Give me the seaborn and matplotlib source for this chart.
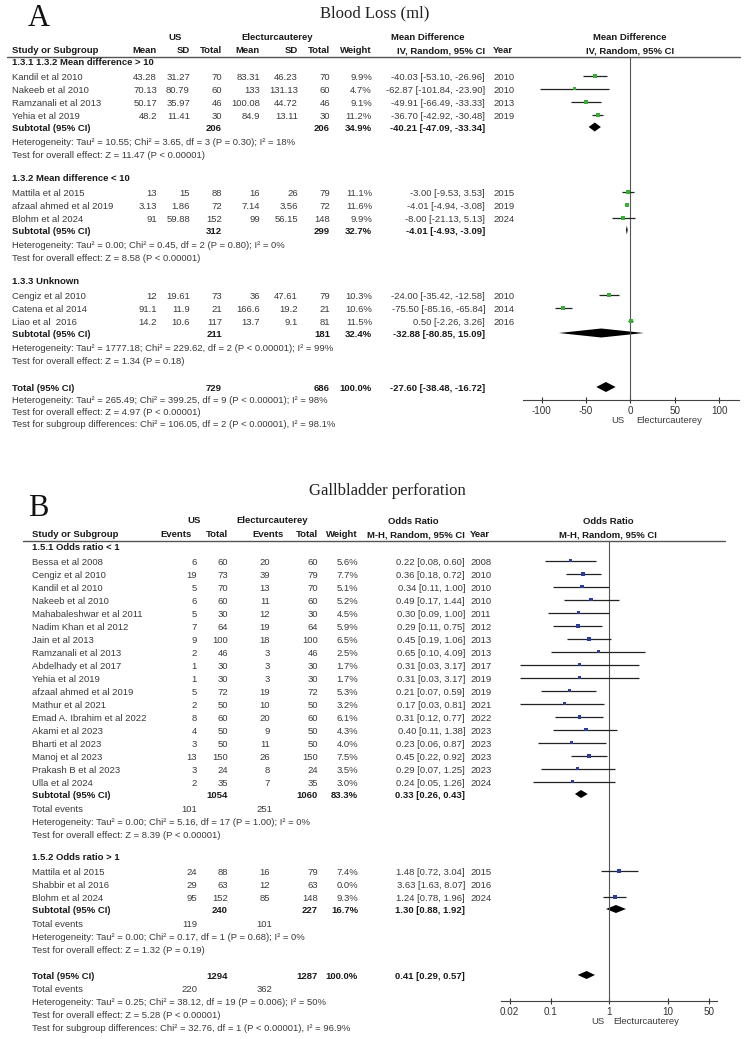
import matplotlib
matplotlib.use('Agg')
import matplotlib.pyplot as plt
import seaborn as sns
import pandas as pd

W, H = 749, 1039

# ---------------- A: Blood loss (ml) ----------------
a_groups = ['1.3.1 1.3.2 Mean difference > 10', '1.3.2 Mean difference < 10', '1.3.3 Unknown']
a_study = ['Kandil et al 2010', 'Nakeeb et al 2010', 'Ramzanali et al 2013', 'Yehia et al 2019',
           'Mattila et al 2015', 'afzaal ahmed et al 2019', 'Blohm et al 2024',
           'Cengiz et al 2010', 'Catena et al 2014', 'Liao et al  2016']
a_grp = [0, 0, 0, 0, 1, 1, 1, 2, 2, 2]
a_us_mean = [43.28, 70.13, 50.17, 48.2, 13, 3.13, 91, 12, 91.1, 14.2]
a_us_sd = [31.27, 80.79, 35.97, 11.41, 15, 1.86, 59.88, 19.61, 11.9, 10.6]
a_us_n = [70, 60, 46, 30, 88, 72, 152, 73, 21, 117]
a_ec_mean = [83.31, 133, 100.08, 84.9, 16, 7.14, 99, 36, 166.6, 13.7]
a_ec_sd = [46.23, 131.13, 44.72, 13.11, 26, 3.56, 56.15, 47.61, 19.2, 9.1]
a_ec_n = [70, 60, 46, 30, 79, 72, 148, 79, 21, 81]
a_weight = [9.9, 4.7, 9.1, 11.2, 11.1, 11.6, 9.9, 10.3, 10.6, 11.5]
a_md = [-40.03, -62.87, -49.91, -36.70, -3.00, -4.01, -8.00, -24.00, -75.50, 0.50]
a_lo = [-53.10, -101.84, -66.49, -42.92, -9.53, -4.94, -21.13, -35.42, -85.16, -2.26]
a_hi = [-26.96, -23.90, -33.33, -30.48, 3.53, -3.08, 5.13, -12.58, -65.84, 3.26]
a_year = [2010, 2010, 2013, 2019, 2015, 2019, 2024, 2010, 2014, 2016]

a_sub_us_n = [206, 312, 211]
a_sub_ec_n = [206, 299, 181]
a_sub_w = [34.9, 32.7, 32.4]
a_sub_md = [-40.21, -4.01, -32.88]
a_sub_lo = [-47.09, -4.93, -80.85]
a_sub_hi = [-33.34, -3.09, 15.09]
a_sub_het = ['Heterogeneity: Tau² = 10.55; Chi² = 3.65, df = 3 (P = 0.30); I² = 18%',
             'Heterogeneity: Tau² = 0.00; Chi² = 0.45, df = 2 (P = 0.80); I² = 0%',
             'Heterogeneity: Tau² = 1777.18; Chi² = 229.62, df = 2 (P < 0.00001); I² = 99%']
a_sub_test = ['Test for overall effect: Z = 11.47 (P < 0.00001)',
              'Test for overall effect: Z = 8.58 (P < 0.00001)',
              'Test for overall effect: Z = 1.34 (P = 0.18)']
a_tot_n = [729, 686]
a_tot_w = 100.0
a_tot_est = [-27.60, -38.48, -16.72]
a_tot_text = ['Heterogeneity: Tau² = 265.49; Chi² = 399.25, df = 9 (P < 0.00001); I² = 98%',
              'Test for overall effect: Z = 4.97 (P < 0.00001)',
              'Test for subgroup differences: Chi² = 106.05, df = 2 (P < 0.00001), I² = 98.1%']
a_ticks = [-100, -50, 0, 50, 100]

# ---------------- B: Gallbladder perforation ----------------
b_groups = ['1.5.1 Odds ratio < 1', '1.5.2 Odds ratio > 1']
b_study = ['Bessa et al 2008', 'Cengiz et al 2010', 'Kandil et al 2010', 'Nakeeb et al 2010',
           'Mahabaleshwar et al 2011', 'Nadim Khan et al 2012', 'Jain et al 2013',
           'Ramzanali et al 2013', 'Abdelhady et al 2017', 'Yehia et al 2019',
           'afzaal ahmed et al 2019', 'Mathur et al 2021', 'Emad A. Ibrahim et al 2022',
           'Akami et al 2023', 'Bharti et al 2023', 'Manoj et al 2023', 'Prakash B et al 2023',
           'Ulla et al 2024',
           'Mattila et al 2015', 'Shabbir et al 2016', 'Blohm et al 2024']
b_grp = [0] * 18 + [1] * 3
b_us_ev = [6, 19, 5, 6, 5, 7, 9, 2, 1, 1, 5, 2, 8, 4, 3, 13, 3, 2, 24, 29, 95]
b_us_n = [60, 73, 70, 60, 30, 64, 100, 46, 30, 30, 72, 50, 60, 50, 50, 150, 24, 35, 88, 63, 152]
b_ec_ev = [20, 39, 13, 11, 12, 19, 18, 3, 3, 3, 19, 10, 20, 9, 11, 26, 8, 7, 16, 12, 85]
b_ec_n = [60, 79, 70, 60, 30, 64, 100, 46, 30, 30, 72, 50, 60, 50, 50, 150, 24, 35, 79, 63, 148]
b_weight = [5.6, 7.7, 5.1, 5.2, 4.5, 5.9, 6.5, 2.5, 1.7, 1.7, 5.3, 3.2, 6.1, 4.3, 4.0, 7.5, 3.5, 3.0,
            7.4, 0.0, 9.3]
b_or = [0.22, 0.36, 0.34, 0.49, 0.30, 0.29, 0.45, 0.65, 0.31, 0.31, 0.21, 0.17, 0.31, 0.40, 0.23,
        0.45, 0.29, 0.24, 1.48, 3.63, 1.24]
b_lo = [0.08, 0.18, 0.11, 0.17, 0.09, 0.11, 0.19, 0.10, 0.03, 0.03, 0.07, 0.03, 0.12, 0.11, 0.06,
        0.22, 0.07, 0.05, 0.72, 1.63, 0.78]
b_hi = [0.60, 0.72, 1.00, 1.44, 1.00, 0.75, 1.06, 4.09, 3.17, 3.17, 0.59, 0.81, 0.77, 1.38, 0.87,
        0.92, 1.25, 1.26, 3.04, 8.07, 1.96]
b_year = [2008, 2010, 2010, 2010, 2011, 2012, 2013, 2013, 2017, 2019, 2019, 2021, 2022, 2023, 2023,
          2023, 2023, 2024, 2015, 2016, 2024]

b_sub_us_n = [1054, 240]
b_sub_ec_n = [1060, 227]
b_sub_w = [83.3, 16.7]
b_sub_or = [0.33, 1.30]
b_sub_lo = [0.26, 0.88]
b_sub_hi = [0.43, 1.92]
b_sub_us_ev = [101, 119]
b_sub_ec_ev = [251, 101]
b_sub_het = ['Heterogeneity: Tau² = 0.00; Chi² = 5.16, df = 17 (P = 1.00); I² = 0%',
             'Heterogeneity: Tau² = 0.00; Chi² = 0.17, df = 1 (P = 0.68); I² = 0%']
b_sub_test = ['Test for overall effect: Z = 8.39 (P < 0.00001)',
              'Test for overall effect: Z = 1.32 (P = 0.19)']
b_tot_n = [1294, 1287]
b_tot_ev = [220, 362]
b_tot_w = 100.0
b_tot_est = [0.41, 0.29, 0.57]
b_tot_text = ['Heterogeneity: Tau² = 0.25; Chi² = 38.12, df = 19 (P = 0.006); I² = 50%',
              'Test for overall effect: Z = 5.28 (P < 0.00001)',
              'Test for subgroup differences: Chi² = 32.76, df = 1 (P < 0.00001), I² = 96.9%']
b_ticks = [0.02, 0.1, 1, 10, 50]
b_tick_labels = ['0.02', '0.1', '1', '10', '50']

# ---------------- style ----------------
sns.set_theme(style='white')
plt.rcParams['font.family'] = ['Liberation Sans', 'DejaVu Sans']
FS = 6.8
TXT = '#3a3a3a'
BLD = '#1a1a1a'

fig = plt.figure(figsize=(W / 100, H / 100), dpi=100)
tx = fig.add_axes([0, 0, 1, 1])
tx.set_xlim(0, W)
tx.set_ylim(H, 0)
tx.axis('off')


def t(x, y, s, ha='left', bold=False, size=FS, **kw):
    # y is the visual centre of the row; place baseline below it
    tx.text(x, y + 3.4, s, ha=ha, va='baseline', fontsize=size,
            fontweight='bold' if bold else 'normal', color=BLD if bold else TXT, **kw)


def fmt_ci(e, lo, hi):
    return '%.2f [%.2f, %.2f]' % (e, lo, hi)


def forest_axes(x0, x1, y0, y1):
    ax = fig.add_axes([x0 / W, 1 - y1 / H, (x1 - x0) / W, (y1 - y0) / H])
    ax.set_ylim(y1, y0)
    ax.patch.set_alpha(0)
    sns.despine(ax=ax, left=True, top=True, right=True)
    ax.spines['bottom'].set_color('#444444')
    ax.spines['bottom'].set_linewidth(0.8)
    ax.set_yticks([])
    ax.tick_params(axis='x', direction='inout', length=5, width=0.8, labelsize=FS + 0.3,
                   pad=1.5, colors='#333333', bottom=True)
    return ax


def diamond(ax, e, lo, hi, y, h):
    ax.fill([lo, e, hi, e], [y, y - h, y, y + h], color='black', lw=0)


# ================= Panel A =================
tx.text(28, 18, 'A', fontsize=22, family='Liberation Serif', va='center', color='#111111')
tx.text(375, 13, 'Blood Loss (ml)', fontsize=12, family='Liberation Serif', ha='center',
        va='center', color='#222222')

# header
t(175, 37, 'US', ha='center', bold=True)
t(277, 37, 'Electurcauterey', ha='center', bold=True)
t(428, 37, 'Mean Difference', ha='center', bold=True)
t(630, 37, 'Mean Difference', ha='center', bold=True)
t(12, 50, 'Study or Subgroup', bold=True)
for x, s in [(157, 'Mean'), (190, 'SD'), (222, 'Total'), (260, 'Mean'), (298, 'SD'),
             (330, 'Total'), (372, 'Weight'), (485, 'IV, Random, 95% CI')]:
    t(x, 50, s, ha='right', bold=True)
t(493, 50, 'Year', bold=True)
t(630, 50, 'IV, Random, 95% CI', ha='center', bold=True)
tx.plot([7, 740], [56.5, 56.5], color='#555555', lw=1)

axA = forest_axes(522.7, 739, 56.5, 400)
axA.set_xlim(-121.5, 122.5)
axA.set_xticks(a_ticks)
axA.set_xticklabels([str(v) for v in a_ticks])
axA.axvline(0, color='#555555', lw=0.8)

a_rows = []
gy = 62
for g in range(3):
    t(12, gy, a_groups[g], bold=True)
    idx = [i for i in range(len(a_study)) if a_grp[i] == g]
    y = gy + 15
    for i in idx:
        t(12, y, a_study[i])
        for x, s in [(157, '%g' % a_us_mean[i]), (190, '%g' % a_us_sd[i]), (222, str(a_us_n[i])),
                     (260, '%g' % a_ec_mean[i]), (298, '%g' % a_ec_sd[i]), (330, str(a_ec_n[i])),
                     (372, '%.1f%%' % a_weight[i]), (485, fmt_ci(a_md[i], a_lo[i], a_hi[i]))]:
            t(x, y, s, ha='right')
        t(493, y, str(a_year[i]))
        a_rows.append(dict(md=a_md[i], lo=a_lo[i], hi=a_hi[i], w=a_weight[i], y=y - 1.3))
        y += 13
    ys = y - 1
    t(12, ys, 'Subtotal (95% CI)', bold=True)
    t(222, ys, str(a_sub_us_n[g]), ha='right', bold=True)
    t(330, ys, str(a_sub_ec_n[g]), ha='right', bold=True)
    t(372, ys, '%.1f%%' % a_sub_w[g], ha='right', bold=True)
    t(485, ys, fmt_ci(a_sub_md[g], a_sub_lo[g], a_sub_hi[g]), ha='right', bold=True)
    diamond(axA, a_sub_md[g], a_sub_lo[g], a_sub_hi[g], ys - 1, 4.5)
    t(12, ys + 14, a_sub_het[g])
    t(12, ys + 27, a_sub_test[g])
    gy = ys + 27 + 23

yt = gy + 4
t(12, yt, 'Total (95% CI)', bold=True)
t(222, yt, str(a_tot_n[0]), ha='right', bold=True)
t(330, yt, str(a_tot_n[1]), ha='right', bold=True)
t(372, yt, '%.1f%%' % a_tot_w, ha='right', bold=True)
t(485, yt, fmt_ci(*a_tot_est), ha='right', bold=True)
diamond(axA, a_tot_est[0], a_tot_est[1], a_tot_est[2], yt - 1, 5)
for k, s in enumerate(a_tot_text):
    t(12, yt + 12 + 12 * k, s)

dfA = pd.DataFrame(a_rows)
axA.hlines(dfA['y'], dfA['lo'], dfA['hi'], color='#222222', lw=0.9)
sns.scatterplot(data=dfA, x='md', y='y', size='w', sizes=(5, 9), marker='s', color='#35b035',
                edgecolor='none', legend=False, ax=axA, zorder=3)
axA.set_xlabel('')
axA.set_ylabel('')
axA.set_ylim(400, 56.5)
t(625, 420, 'US', ha='right')
t(636, 420, 'Electurcauterey')

# ================= Panel B =================
tx.text(28, 509, 'B', fontsize=22, family='Liberation Serif', va='center', color='#111111')
tx.text(387, 491, 'Gallbladder perforation', fontsize=12, family='Liberation Serif',
        ha='center', va='center', color='#222222')

t(194, 520, 'US', ha='center', bold=True)
t(272, 520, 'Electurcauterey', ha='center', bold=True)
t(413, 521, 'Odds Ratio', ha='center', bold=True)
t(608, 521, 'Odds Ratio', ha='center', bold=True)
t(32, 534, 'Study or Subgroup', bold=True)
for x, s in [(192, 'Events'), (228, 'Total'), (284, 'Events'), (318, 'Total'), (358, 'Weight'),
             (465, 'M-H, Random, 95% CI')]:
    t(x, 534, s, ha='right', bold=True)
t(470, 534, 'Year', bold=True)
t(608, 534, 'M-H, Random, 95% CI', ha='center', bold=True)
tx.plot([23, 725], [541, 541], color='#555555', lw=1)

axB = forest_axes(501, 717, 541, 1001)
axB.set_xscale('log')
axB.set_xlim(0.0143, 68.4)
axB.set_xticks(b_ticks)
axB.set_xticklabels(b_tick_labels)
axB.minorticks_off()
axB.axvline(1, color='#555555', lw=0.8)

b_rows = []
gy = 547
for g in range(2):
    t(32, gy, b_groups[g], bold=True)
    idx = [i for i in range(len(b_study)) if b_grp[i] == g]
    y = gy + 15
    for i in idx:
        t(32, y, b_study[i])
        for x, s in [(197, str(b_us_ev[i])), (228, str(b_us_n[i])), (270, str(b_ec_ev[i])),
                     (318, str(b_ec_n[i])), (358, '%.1f%%' % b_weight[i]),
                     (465, fmt_ci(b_or[i], b_lo[i], b_hi[i]))]:
            t(x, y, s, ha='right')
        t(470, y, str(b_year[i]))
        if b_weight[i] > 0:
            b_rows.append(dict(est=b_or[i], lo=b_lo[i], hi=b_hi[i], w=b_weight[i], y=y - 1.3))
        y += 13
    ys = y - 1
    t(32, ys, 'Subtotal (95% CI)', bold=True)
    t(228, ys, str(b_sub_us_n[g]), ha='right', bold=True)
    t(318, ys, str(b_sub_ec_n[g]), ha='right', bold=True)
    t(358, ys, '%.1f%%' % b_sub_w[g], ha='right', bold=True)
    t(465, ys, fmt_ci(b_sub_or[g], b_sub_lo[g], b_sub_hi[g]), ha='right', bold=True)
    diamond(axB, b_sub_or[g], b_sub_lo[g], b_sub_hi[g], ys - 1, 4)
    t(32, ys + 14, 'Total events')
    t(197, ys + 14, str(b_sub_us_ev[g]), ha='right')
    t(272, ys + 14, str(b_sub_ec_ev[g]), ha='right')
    t(32, ys + 27, b_sub_het[g])
    t(32, ys + 40, b_sub_test[g])
    gy = ys + 40 + 22

yt = gy + 4
t(32, yt, 'Total (95% CI)', bold=True)
t(228, yt, str(b_tot_n[0]), ha='right', bold=True)
t(318, yt, str(b_tot_n[1]), ha='right', bold=True)
t(358, yt, '%.1f%%' % b_tot_w, ha='right', bold=True)
t(465, yt, fmt_ci(*b_tot_est), ha='right', bold=True)
diamond(axB, b_tot_est[0], b_tot_est[1], b_tot_est[2], yt - 1, 4)
t(32, yt + 13, 'Total events')
t(197, yt + 13, str(b_tot_ev[0]), ha='right')
t(272, yt + 13, str(b_tot_ev[1]), ha='right')
for k, s in enumerate(b_tot_text):
    t(32, yt + 26 + 13 * k, s)

dfB = pd.DataFrame(b_rows)
axB.hlines(dfB['y'], dfB['lo'], dfB['hi'], color='#222222', lw=0.9)
sns.scatterplot(data=dfB, x='est', y='y', size='w', sizes=(4, 9), marker='s', color='#2a3d99',
                edgecolor='none', legend=False, ax=axB, zorder=3)
axB.set_xlabel('')
axB.set_ylabel('')
axB.set_ylim(1001, 541)
t(605, 1021, 'US', ha='right')
t(613, 1021, 'Electurcauterey')

fig.savefig('out.png', dpi=100)
